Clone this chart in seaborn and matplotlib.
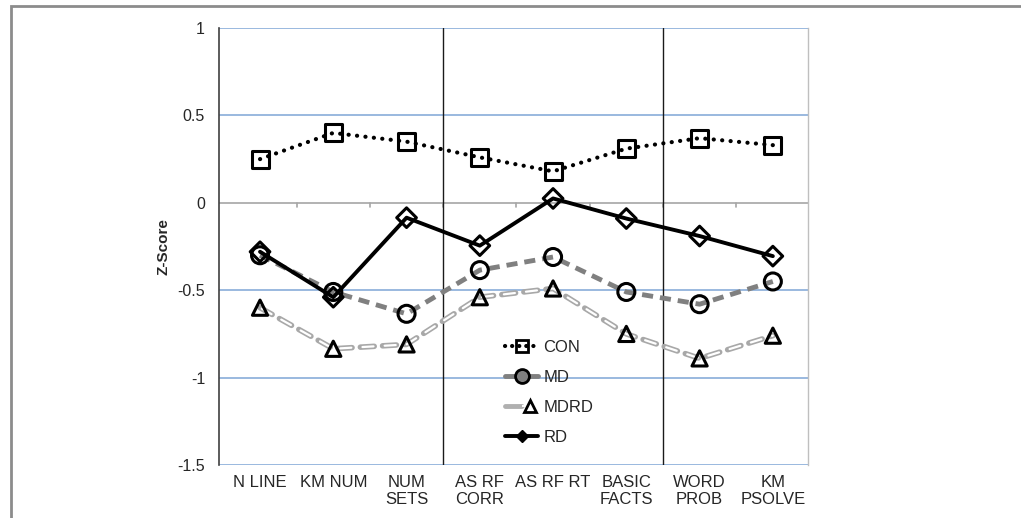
import numpy as np
import pandas as pd
import matplotlib.pyplot as plt
import seaborn as sns
from matplotlib.lines import Line2D
from matplotlib.patches import Rectangle
from matplotlib.legend_handler import HandlerTuple

# ── data ──────────────────────────────────────────────────────────────────────
categories = ["N LINE", "KM NUM", "NUM\nSETS", "AS RF\nCORR", "AS RF RT",
              "BASIC\nFACTS", "WORD\nPROB", "KM\nPSOLVE"]
con  = [0.25, 0.40, 0.35, 0.26, 0.18, 0.31, 0.37, 0.33]
md   = [-0.30, -0.51, -0.635, -0.385, -0.31, -0.51, -0.58, -0.45]
mdrd = [-0.60, -0.835, -0.81, -0.54, -0.49, -0.75, -0.89, -0.76]
rd   = [-0.28, -0.54, -0.085, -0.245, 0.025, -0.09, -0.19, -0.305]
y_ticks = [1, 0.5, 0, -0.5, -1, -1.5]
y_tick_labels = ["1", "0.5", "0", "-0.5", "-1", "-1.5"]
group_breaks = [2.5, 5.5]

sns.set_style("white")
plt.rcParams["font.family"] = ["Liberation Sans", "DejaVu Sans"]
plt.rcParams["lines.scale_dashes"] = False

pos = np.arange(len(categories))
df = pd.DataFrame({"pos": pos, "CON": con, "MD": md, "MDRD": mdrd, "RD": rd})

fig = plt.figure(figsize=(10.21, 5.18), dpi=100)
ax = fig.add_axes([0.2145, 0.1023, 0.5769, 0.8436])

# outer frame of the figure panel
fig.patches.append(Rectangle((11 / 1021, -0.05), 1.1, 1 - 6 / 518 + 0.05,
                             transform=fig.transFigure, fill=False,
                             edgecolor="#8c8c8c", lw=2, zorder=0))

# gridlines
for yv in y_ticks:
    if yv == 0:
        ax.axhline(yv, color="#a6a6a6", lw=1.2, zorder=1)
    else:
        ax.axhline(yv, color="#7fa6d6", lw=1.1, zorder=1)
for b in np.arange(0.5, len(categories) - 1, 1.0):
    ax.plot([b, b], [0, -0.025], color="#a6a6a6", lw=1.2, zorder=1)
for g in group_breaks:
    ax.axvline(g, color="#1a1a1a", lw=1.0, zorder=1)

# series
# MDRD: outlined dashes = grey dashes with a shorter white dash inside
sns.lineplot(data=df, x="pos", y="MDRD", ax=ax, color="#a8a8a8", lw=4.0,
             legend=False, zorder=2)
ax.lines[-1].set_linestyle((0, (10, 6)))
ax.lines[-1].set_dash_capstyle("round")
sns.lineplot(data=df, x="pos", y="MDRD", ax=ax, color="white", lw=1.6,
             legend=False, zorder=2)
ax.lines[-1].set_linestyle((14.5, (8, 8)))
ax.lines[-1].set_dash_capstyle("round")

sns.lineplot(data=df, x="pos", y="MD", ax=ax, color="#808080", lw=3.5,
             legend=False, zorder=3)
ax.lines[-1].set_linestyle((0, (8, 5)))
sns.lineplot(data=df, x="pos", y="CON", ax=ax, color="black", lw=3.0,
             legend=False, zorder=3)
ax.lines[-1].set_linestyle((0, (0.1, 6)))
ax.lines[-1].set_dash_capstyle("round")
sns.lineplot(data=df, x="pos", y="RD", ax=ax, color="black", lw=2.8,
             legend=False, zorder=3)

mk = dict(facecolor="none", edgecolor="black", linewidth=2.2, zorder=4)
ax.scatter(df["pos"], df["CON"], marker="s", s=150, **mk)
ax.scatter(df["pos"], df["MD"], marker="o", s=150, **mk)
ax.scatter(df["pos"], df["MDRD"], marker="^", s=120, **mk)
ax.scatter(df["pos"], df["RD"], marker="D", s=100, **mk)

# axes cosmetics
ax.set_xlim(-0.56, 7.48)
ax.set_ylim(-1.5, 1)
ax.set_xticks(pos)
ax.set_xticklabels(categories, fontsize=12, color="#262626")
ax.set_yticks(y_ticks)
ax.set_yticklabels(y_tick_labels, fontsize=11.5, color="#262626")
ax.tick_params(axis="both", length=0, pad=10)
ax.tick_params(axis="x", pad=7)
ax.set_xlabel("")
ax.set_ylabel("Z-Score", fontsize=11, fontweight="bold", labelpad=5)
for side in ["top", "bottom"]:
    ax.spines[side].set_visible(False)
ax.spines["left"].set_color("#404040")
ax.spines["left"].set_linewidth(1.2)
ax.spines["right"].set_color("#bfbfbf")
ax.spines["right"].set_linewidth(1.0)

# legend
h_con = Line2D([], [], color="black", lw=3.0, ls=(0, (0.1, 5)),
               dash_capstyle="round", marker="s", ms=9, mfc="none",
               mec="black", mew=2)
h_md = Line2D([], [], color="#808080", lw=3.5, marker="o", ms=10,
              mfc="#808080", mec="black", mew=2)
h_mdrd_a = Line2D([], [], color="#b0b0b0", lw=3.5, ls=(0, (12, 3)),
                  dash_capstyle="round")
h_mdrd_b = Line2D([], [], color="white", lw=1.4, ls=(0, (12, 3)),
                  marker="^", ms=8, mfc="white", mec="black", mew=2)
h_rd = Line2D([], [], color="black", lw=2.8, marker="D", ms=6,
              mfc="black", mec="black")
ax.legend([h_con, h_md, (h_mdrd_a, h_mdrd_b), h_rd],
          ["CON", "MD", "MDRD", "RD"],
          handler_map={tuple: HandlerTuple(ndivide=None, pad=0)},
          loc="upper left", bbox_to_anchor=(0.46, 0.32), frameon=False,
          fontsize=12, labelspacing=0.9, handlelength=2.0, handletextpad=0.3)

plt.savefig("out.png", dpi=100)
